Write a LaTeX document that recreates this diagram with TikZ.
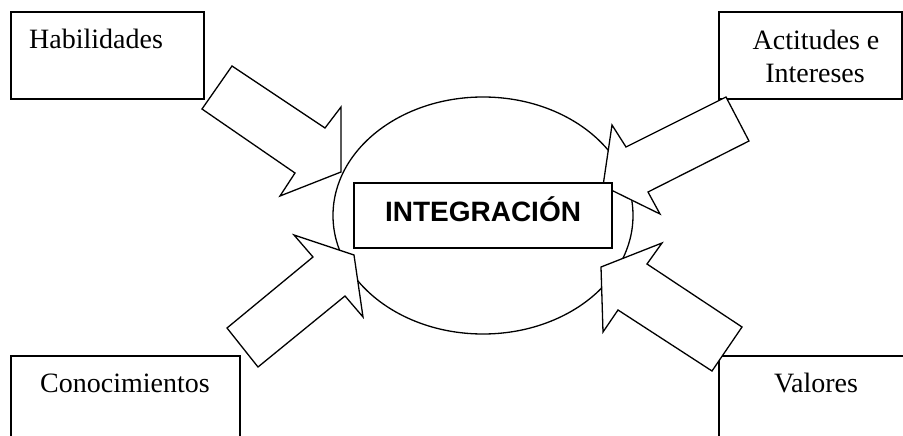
\documentclass[tikz,border=0pt]{standalone}
\usepackage{fontspec}
\usetikzlibrary{shapes.geometric}
\setmainfont{Liberation Serif}
\newfontfamily\arialfont{Liberation Sans}
\begin{document}
\begin{tikzpicture}[x=1pt,y=-1pt,
  box/.style={draw=black,line width=1.3pt,rectangle,inner sep=0pt},
  lbl/.style={font=\fontsize{28}{31}\selectfont,inner sep=0pt},
  blockarrow/.style={draw=black,line width=1.3pt,fill=white,line join=miter}]
\useasboundingbox (0,0) rectangle (903,436);
\clip (0,0) rectangle (903,436);
% boxes
\node[box,minimum width=193pt,minimum height=87pt] (hab) at (107.5,55.5) {};
\node[lbl,anchor=base west] (habt) at (29,49) {Habilidades};
\node[box,minimum width=183pt,minimum height=87pt] (act) at (810.5,55.5) {};
\node[lbl,anchor=base] (actt1) at (816,50) {Actitudes e};
\node[lbl,anchor=base] (actt2) at (815,82) {Intereses};
\node[box,minimum width=229pt,minimum height=120pt] (con) at (125.5,416) {};
\node[lbl,anchor=base] (cont) at (125,392) {Conocimientos};
\node[box,minimum width=220pt,minimum height=120pt] (val) at (829,416) {};
\node[lbl,anchor=base] (valt) at (816,392) {Valores};
% ellipse
\node[draw=black,line width=1.3pt,ellipse,minimum width=300pt,minimum height=237pt,inner sep=0pt] (ell) at (483,215.5) {};
% arrows
\draw[blockarrow] (232,66) -- (325,128) -- (341,107) -- (341,172) -- (280,196) -- (295,173) -- (202,109) -- cycle;
\draw[blockarrow] (726,97) -- (626,147) -- (612,125) -- (603,186) -- (660,214) -- (648,192) -- (749,141) -- cycle;
\draw[blockarrow] (227,328) -- (313,257) -- (294,235) -- (354,255) -- (363,317) -- (345,296) -- (258,367) -- cycle;
\draw[blockarrow] (742,327) -- (647,264) -- (662,243) -- (601,267) -- (603,332) -- (618,310) -- (712,371) -- cycle;
% center box
\node[box,fill=white,minimum width=258pt,minimum height=65pt] (int) at (483,215.5) {};
\node[inner sep=0pt,anchor=base,font=\arialfont\bfseries\fontsize{28}{31}\selectfont] (intt) at (483,221) {INTEGRACIÓN};
\end{tikzpicture}
\end{document}
